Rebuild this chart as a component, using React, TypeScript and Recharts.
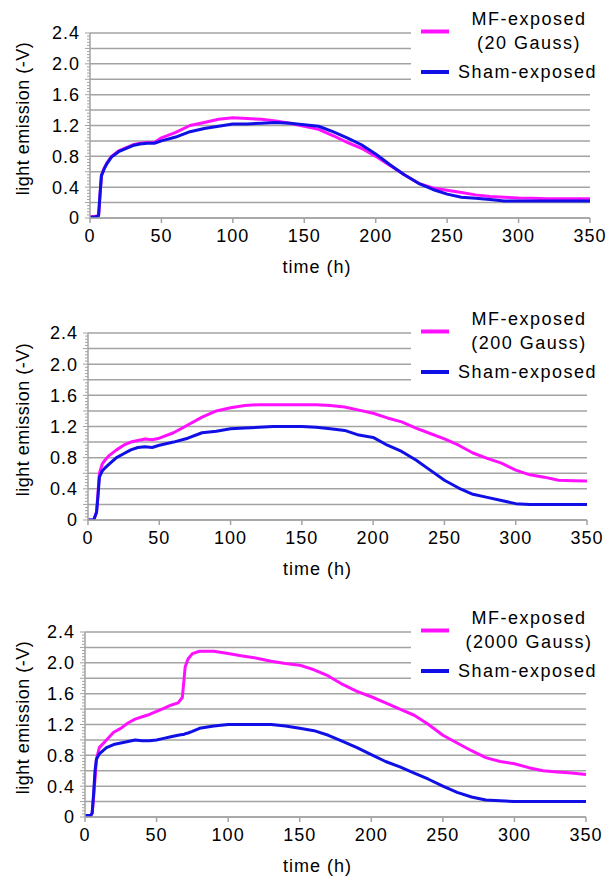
import React from 'react';
import { LineChart, Line, XAxis, YAxis, CartesianGrid, Legend } from 'recharts';

// ---------- data ----------
const T1 = [0, 3, 6, 7, 8, 10, 12, 15, 20, 25, 30, 35, 40, 45, 50, 60, 70, 80, 90, 100, 110, 120, 130, 140, 150, 160, 170, 180, 190, 200, 210, 220, 230, 240, 250, 260, 270, 280, 290, 300, 310, 320, 330, 340, 350];
const MF1 = [0.02, 0.02, 0.03, 0.3, 0.55, 0.65, 0.72, 0.8, 0.87, 0.91, 0.95, 0.97, 0.98, 0.98, 1.04, 1.11, 1.2, 1.24, 1.28, 1.3, 1.29, 1.28, 1.26, 1.23, 1.19, 1.15, 1.07, 0.98, 0.905, 0.8, 0.68, 0.56, 0.45, 0.39, 0.36, 0.33, 0.3, 0.28, 0.27, 0.26, 0.255, 0.25, 0.25, 0.25, 0.25];
const SHAM1 = [0.01, 0.01, 0.03, 0.3, 0.55, 0.64, 0.71, 0.79, 0.86, 0.9, 0.94, 0.96, 0.97, 0.97, 1.0, 1.05, 1.12, 1.16, 1.19, 1.22, 1.22, 1.23, 1.24, 1.23, 1.21, 1.19, 1.12, 1.04, 0.95, 0.83, 0.69, 0.56, 0.45, 0.37, 0.31, 0.27, 0.255, 0.24, 0.22, 0.22, 0.22, 0.22, 0.22, 0.22, 0.22];

const T2 = [0, 4, 6, 7, 8, 10, 12, 15, 20, 25, 30, 35, 40, 45, 50, 60, 70, 80, 90, 100, 110, 120, 130, 140, 150, 160, 170, 180, 190, 200, 210, 220, 230, 240, 250, 260, 270, 280, 290, 300, 310, 320, 330, 340, 350];
const MF2 = [0, 0, 0.1, 0.35, 0.6, 0.72, 0.77, 0.83, 0.9, 0.96, 1.0, 1.02, 1.04, 1.03, 1.05, 1.12, 1.22, 1.32, 1.4, 1.44, 1.47, 1.48, 1.48, 1.48, 1.48, 1.48, 1.47, 1.45, 1.41, 1.37, 1.31, 1.26, 1.18, 1.11, 1.04, 0.96, 0.86, 0.79, 0.73, 0.64, 0.58, 0.55, 0.51, 0.505, 0.5];
const SHAM2 = [0, 0, 0.1, 0.3, 0.55, 0.63, 0.67, 0.72, 0.8, 0.85, 0.9, 0.93, 0.94, 0.93, 0.96, 1.0, 1.05, 1.12, 1.14, 1.17, 1.18, 1.19, 1.2, 1.2, 1.2, 1.19, 1.17, 1.15, 1.09, 1.06, 0.96, 0.88, 0.77, 0.64, 0.51, 0.41, 0.33, 0.29, 0.25, 0.21, 0.2, 0.2, 0.2, 0.2, 0.2];

const T3 = [0, 4, 5, 6, 7, 8, 10, 15, 20, 25, 30, 35, 40, 45, 50, 55, 60, 65, 68, 69, 70, 72, 75, 80, 90, 100, 110, 120, 130, 140, 150, 160, 170, 180, 190, 200, 210, 220, 230, 240, 250, 260, 270, 280, 290, 300, 310, 320, 330, 340, 350];
const MF3 = [0.02, 0.02, 0.05, 0.25, 0.5, 0.75, 0.9, 1.0, 1.1, 1.15, 1.22, 1.27, 1.3, 1.33, 1.37, 1.41, 1.45, 1.48, 1.55, 1.75, 1.95, 2.05, 2.12, 2.15, 2.15, 2.12, 2.09, 2.06, 2.02, 1.99, 1.97, 1.91, 1.83, 1.72, 1.63, 1.56, 1.48, 1.4, 1.32, 1.2, 1.06, 0.96, 0.86, 0.77, 0.72, 0.69, 0.64, 0.6, 0.585, 0.57, 0.55];
const SHAM3 = [0.02, 0.02, 0.05, 0.3, 0.6, 0.75, 0.82, 0.9, 0.94, 0.96, 0.98, 1.0, 0.99, 0.99, 1.0, 1.02, 1.04, 1.06, 1.07, 1.07, 1.08, 1.09, 1.11, 1.15, 1.18, 1.2, 1.2, 1.2, 1.2, 1.18, 1.15, 1.12, 1.06, 0.98, 0.9, 0.81, 0.72, 0.65, 0.57, 0.49, 0.4, 0.32, 0.26, 0.22, 0.21, 0.2, 0.2, 0.2, 0.2, 0.2, 0.2];

const X_TICKS = [0, 50, 100, 150, 200, 250, 300, 350];
const Y_GRID = [0, 0.2, 0.4, 0.6, 0.8, 1.0, 1.2, 1.4, 1.6, 1.8, 2.0, 2.2, 2.4];
const Y_GRID_LABELS = ['0', '', '0.4', '', '0.8', '', '1.2', '', '1.6', '', '2.0', '', '2.4'];
const Y_MINOR_STEP = 0.04;
const Y_MINOR_PER_GRID = 5;
const Y_MINOR_TICKS = Array.from({ length: 61 }, (_, i) => Number((i * Y_MINOR_STEP).toFixed(2)));

const X_LABEL = 'time (h)';
const Y_LABEL = 'light emission (-V)';
const MF_NAME = 'MF-exposed';
const GAUSS_LABELS = ['(20 Gauss)', '(200 Gauss)', '(2000 Gauss)'];
const SHAM_NAME = 'Sham-exposed';

// ---------- style ----------
const FONT = '"Liberation Sans", Arial, Helvetica, sans-serif';
const MF_COLOR = '#ff10ff';
const SHAM_COLOR = '#1010e6';
const GRID = '#a3a3a3';
const INK = '#000';

const rows = (t: number[], mf: number[], sham: number[]) =>
  t.map((v, i) => ({ t: v, mf: mf[i], sham: sham[i] }));

const LegendBox = ({ gauss }: { gauss: string }) => (
  <svg width={196} height={86} style={{ display: 'block' }}>
    <rect x={0} y={0} width={196} height={86} fill="#fff" />
    <line x1={10} x2={38} y1={31.5} y2={31.5} stroke={MF_COLOR} strokeWidth={4} />
    <text x={118} y={25} textAnchor="middle" fontFamily={FONT} fontSize={18} letterSpacing={1.5} fill={INK}>{MF_NAME}</text>
    <text x={118} y={49} textAnchor="middle" fontFamily={FONT} fontSize={18} letterSpacing={1.5} fill={INK}>{gauss}</text>
    <line x1={10} x2={38} y1={72} y2={72} stroke={SHAM_COLOR} strokeWidth={4} />
    <text x={47} y={78} fontFamily={FONT} fontSize={18} letterSpacing={1.5} fill={INK}>{SHAM_NAME}</text>
  </svg>
);

type PanelProps = {
  top: number;
  height: number;
  plotH: number;
  plotLeft: number;
  plotRight: number;
  xLabelDx: number;
  data: { t: number; mf: number; sham: number }[];
  gauss: string;
};

const Panel = ({ top, height, plotH, plotLeft, plotRight, xLabelDx, data, gauss }: PanelProps) => {
  const xAxisH = 55;
  const margin = { top: 33, right: 607 - plotRight, left: 0, bottom: height - 33 - plotH - xAxisH };
  const tickStyle = { fontFamily: FONT, fontSize: 18, fill: INK, letterSpacing: 1 };

  const YTick = (p: any) => {
    const i: number = p.index;
    const isGrid = i % Y_MINOR_PER_GRID === 0;
    const label = isGrid ? Y_GRID_LABELS[i / Y_MINOR_PER_GRID] : '';
    const len = isGrid ? 5 : 3;
    return (
      <g>
        <line x1={plotLeft - len} x2={plotLeft} y1={p.y} y2={p.y} stroke={GRID} strokeWidth={1} />
        {label ? (
          <text x={plotLeft - 10} y={p.y} dy="0.36em" textAnchor="end" fontFamily={FONT} fontSize={18} letterSpacing={1} fill={INK}>{label}</text>
        ) : null}
      </g>
    );
  };

  return (
    <div style={{ position: 'absolute', left: 0, top }}>
      <LineChart width={607} height={height} data={data} margin={margin}>
        <CartesianGrid horizontal vertical={false} horizontalValues={Y_GRID} stroke={GRID} strokeWidth={1.5} />
        <XAxis
          dataKey="t"
          type="number"
          domain={[0, 350]}
          ticks={X_TICKS}
          interval={0}
          height={xAxisH}
          stroke={GRID}
          strokeWidth={1.5}
          tickSize={5}
          tickMargin={6}
          tick={tickStyle}
          label={{
            content: (p: any) => {
              const vb = p.viewBox || {};
              return (
                <text x={vb.x + vb.width / 2 + xLabelDx} y={vb.y + 55} textAnchor="middle" fontFamily={FONT} fontSize={18} letterSpacing={1} fill={INK}>{X_LABEL}</text>
              );
            },
          }}
        />
        <YAxis
          type="number"
          domain={[0, 2.4]}
          ticks={Y_MINOR_TICKS}
          interval={0}
          width={plotLeft}
          allowDataOverflow
          stroke={GRID}
          strokeWidth={1.5}
          tickLine={false}
          tickSize={5}
          tickMargin={5}
          tick={YTick}
          label={{
            content: (p: any) => {
              const vb = p.viewBox || {};
              const cx = vb.x + 23;
              const cy = vb.y + vb.height / 2 - 7;
              return (
                <text x={cx} y={cy} dy="0.35em" transform={`rotate(-90 ${cx} ${cy})`} textAnchor="middle" fontFamily={FONT} fontSize={18} letterSpacing={0.5} fill={INK}>{Y_LABEL}</text>
              );
            },
          }}
        />
        <Legend
          layout="vertical"
          align="center"
          verticalAlign="middle"
          content={() => <LegendBox gauss={gauss} />}
          wrapperStyle={{ left: 411, top: 0, width: 196, height: 86 }}
        />
        <Line type="linear" dataKey="mf" name={MF_NAME} stroke={MF_COLOR} strokeWidth={3} dot={false} isAnimationActive={false} strokeLinejoin="round" />
        <Line type="linear" dataKey="sham" name={SHAM_NAME} stroke={SHAM_COLOR} strokeWidth={3} dot={false} isAnimationActive={false} strokeLinejoin="round" />
      </LineChart>
    </div>
  );
};

export default function App() {
  return (
    <div style={{ position: 'absolute', left: 0, top: 0, width: 607, height: 876, overflow: 'hidden', background: '#fff' }}>
      <Panel top={0} height={290} plotH={185} plotLeft={90} plotRight={590} xLabelDx={-23} data={rows(T1, MF1, SHAM1)} gauss={GAUSS_LABELS[0]} />
      <Panel top={300} height={290} plotH={187} plotLeft={88} plotRight={587} xLabelDx={-20} data={rows(T2, MF2, SHAM2)} gauss={GAUSS_LABELS[1]} />
      <Panel top={599} height={277} plotH={185} plotLeft={85} plotRight={586} xLabelDx={-18} data={rows(T3, MF3, SHAM3)} gauss={GAUSS_LABELS[2]} />
    </div>
  );
}
